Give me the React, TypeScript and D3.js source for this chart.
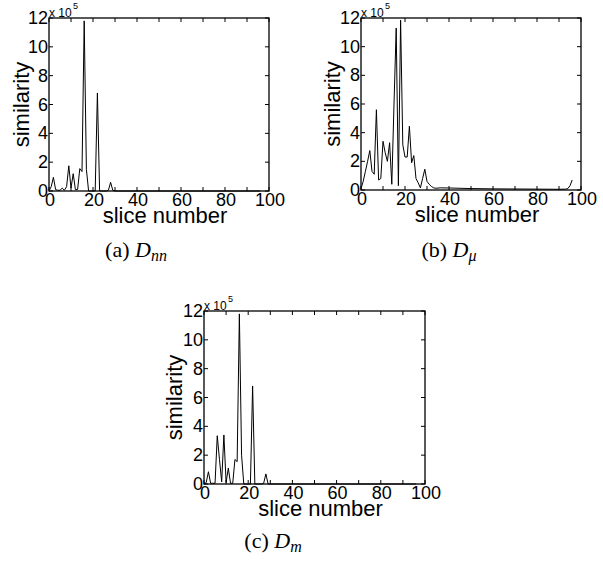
import React from "react";
import * as d3 from "d3";

const width = 603;
const height = 561;

// slice numbers and similarity values (x 10^5)
const slicesA = [0, 1, 2, 3, 4, 5, 6, 7, 8, 9, 10, 11, 12, 13, 14, 15, 16, 17, 18, 19, 20, 21, 22, 23, 24, 25, 26, 27, 28, 29, 30, 96];
const valuesA = [0, 0.3, 0.95, 0.1, 0.05, 0.05, 0.2, 0.05, 0.3, 1.75, 0.2, 1.2, 0.1, 0.1, 1.55, 1.35, 11.8, 1.5, 0, 0, 0, 0, 6.8, 0, 0, 0, 0, 0.05, 0.6, 0.05, 0, 0];

const slicesB = [0, 1, 2, 3, 4, 5, 6, 7, 8, 9, 10, 11, 12, 13, 14, 15, 16, 17, 18, 19, 20, 21, 22, 23, 24, 25, 26, 27, 28, 29, 30, 31, 32, 33, 34, 36, 40, 50, 60, 70, 80, 90, 93, 94, 95, 96];
const valuesB = [0.1, 0.6, 1.3, 2.0, 2.75, 1.3, 1.1, 5.6, 0.7, 0.8, 3.4, 2.6, 2.0, 3.3, 0.4, 6.0, 11.3, 0.3, 11.85, 3.15, 2.3, 2.3, 4.45, 1.9, 2.4, 0.8, 0.5, 0.15, 0.8, 1.45, 0.6, 0.4, 0.25, 0.15, 0.12, 0.15, 0.14, 0.1, 0.08, 0.07, 0.06, 0.05, 0.06, 0.1, 0.3, 0.7];

const slicesC = [0, 1, 2, 3, 4, 5, 6, 7, 8, 9, 10, 11, 12, 13, 14, 15, 16, 17, 18, 19, 20, 21, 22, 23, 24, 25, 26, 27, 28, 29, 30, 96];
const valuesC = [0, 0.1, 0.85, 0.05, 0.05, 0.05, 3.35, 1.7, 0.15, 3.4, 0.1, 1.1, 0.05, 0.05, 1.7, 1.55, 11.8, 2.0, 0, 0, 0, 0, 6.8, 0, 0, 0, 0, 0.05, 0.7, 0, 0, 0];

const xTicks = [0, 10, 20, 30, 40, 50, 60, 70, 80, 90, 100];
const xTickLabels = [0, 20, 40, 60, 80, 100];
const yTicks = [0, 2, 4, 6, 8, 10, 12];

const sans = "'Liberation Sans', Arial, Helvetica, sans-serif";
const serif = "'Liberation Serif', 'Times New Roman', serif";

function Panel({ slices, values, left, top, right, bottom, ylabelX }) {
  const x = d3.scaleLinear().domain([0, 100]).range([left, right]);
  const y = d3.scaleLinear().domain([0, 12]).range([bottom, top]);
  const line = d3
    .line<number>()
    .x((d, i) => x(slices[i]))
    .y((d) => y(d));
  const tl = 4;
  return (
    <g>
      <path d={line(values) || ""} fill="none" stroke="#000" strokeWidth={1} />
      <rect x={left} y={top} width={right - left} height={bottom - top} fill="none" stroke="#000" strokeWidth={1.3} />
      {xTicks.map((t) => (
        <g key={"x" + t} stroke="#000" strokeWidth={1}>
          <line x1={x(t)} x2={x(t)} y1={bottom} y2={bottom - tl} />
          <line x1={x(t)} x2={x(t)} y1={top} y2={top + tl} />
        </g>
      ))}
      {yTicks.map((t) => (
        <g key={"y" + t} stroke="#000" strokeWidth={1}>
          <line x1={left} x2={left + tl} y1={y(t)} y2={y(t)} />
          <line x1={right} x2={right - tl} y1={y(t)} y2={y(t)} />
        </g>
      ))}
      {xTickLabels.map((t) => (
        <text key={"xl" + t} x={x(t) + 1} y={bottom + 15} textAnchor="middle" fontFamily={sans} fontSize={18}>
          {t}
        </text>
      ))}
      {yTicks.map((t) => (
        <text key={"yl" + t} x={left - 1} y={y(t) + 6} textAnchor="end" fontFamily={sans} fontSize={18}>
          {t}
        </text>
      ))}
      <text x={left} y={top - 1} fontFamily={sans} fontSize={12}>
        x 10
      </text>
      <text x={left + 24} y={top - 9} fontFamily={sans} fontSize={9}>
        5
      </text>
      <text x={(left + right) / 2 + 6} y={bottom + 32} textAnchor="middle" fontFamily={sans} fontSize={22}>
        slice number
      </text>
      <text
        transform={`translate(${ylabelX}, ${(top + bottom) / 2}) rotate(-90)`}
        textAnchor="middle"
        fontFamily={sans}
        fontSize={22}
      >
        similarity
      </text>
    </g>
  );
}

function Caption({ cx, cy, tag, sub }) {
  return (
    <text x={cx} y={cy} textAnchor="middle" fontFamily={serif} fontSize={22}>
      <tspan>{tag} </tspan>
      <tspan fontStyle="italic">D</tspan>
      <tspan fontStyle="italic" fontSize={16} dy={4}>
        {sub}
      </tspan>
    </text>
  );
}

export default function App() {
  return (
    <svg width={width} height={height} style={{ position: "absolute", left: 0, top: 0, background: "#fff" }}>
      <Panel slices={slicesA} values={valuesA} left={49} top={18} right={269} bottom={191} ylabelX={29} />
      <Panel slices={slicesB} values={valuesB} left={361} top={18} right={581} bottom={190} ylabelX={340} />
      <Panel slices={slicesC} values={valuesC} left={204} top={311} right={425} bottom={484} ylabelX={182} />
      <Caption cx={136} cy={257} tag="(a)" sub="nn" />
      <Caption cx={449} cy={257} tag="(b)" sub="μ" />
      <Caption cx={273} cy={548} tag="(c)" sub="m" />
    </svg>
  );
}
